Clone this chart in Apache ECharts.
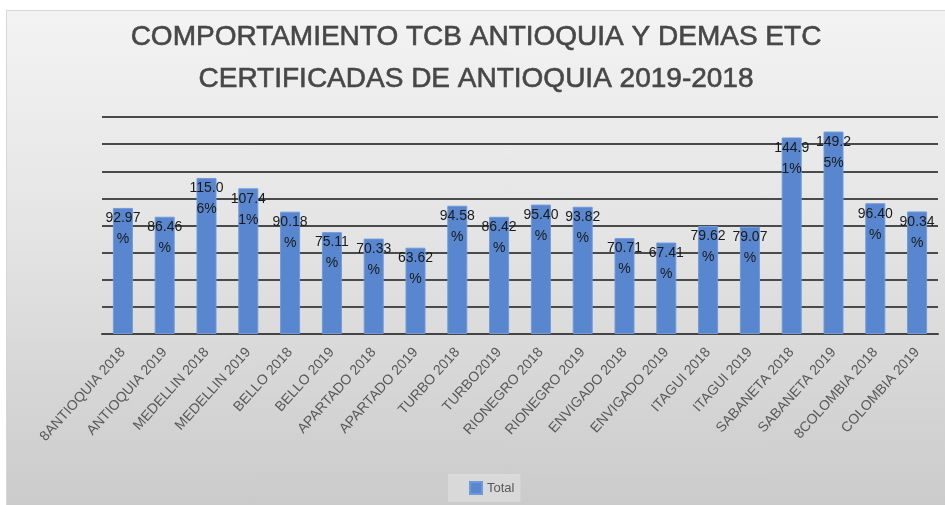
<!DOCTYPE html>
<html>
<head>
<meta charset="utf-8">
<script src="https://cdn.jsdelivr.net/npm/echarts@6/dist/echarts.min.js"></script>
<style>
  html, body {
    margin: 0;
    padding: 0;
    background: #ffffff;
  }
  #tcb-chart {
    position: absolute;
    left: 6px;
    top: 10px;
    width: 938px;
    height: 494px;
    border: 1px solid #d6d6d6;
    background: linear-gradient(to bottom, #f3f3f3 0%, #e4e4e4 45%, #cbcbcb 100%);
  }
</style>
</head>
<body>
<div id="tcb-chart"></div>
<script>
// datos
const categorias = [
  "8ANTIOQUIA 2018", "ANTIOQUIA 2019", "MEDELLIN 2018", "MEDELLIN 2019",
  "BELLO 2018", "BELLO 2019", "APARTADO 2018", "APARTADO 2019",
  "TURBO 2018", "TURBO2019", "RIONEGRO 2018", "RIONEGRO 2019",
  "ENVIGADO 2018", "ENVIGADO 2019", "ITAGUI 2018", "ITAGUI 2019",
  "SABANETA 2018", "SABANETA 2019", "8COLOMBIA 2018", "COLOMBIA 2019",
];
const total = [
  92.97, 86.46, 115.06, 107.41, 90.18, 75.11, 70.33, 63.62, 94.58, 86.42,
  95.4, 93.82, 70.71, 67.41, 79.62, 79.07, 144.91, 149.25, 96.4, 90.34,
];
const titulo = [
  "COMPORTAMIENTO TCB ANTIOQUIA Y DEMAS ETC",
  "CERTIFICADAS DE ANTIOQUIA 2019-2018",
];

// la etiqueta se parte a los 5 caracteres como en el original
function etiqueta(v) {
  const s = v.toFixed(2) + "%";
  return s.slice(0, 5) + "\n" + s.slice(5);
}

let myChart = echarts.init(document.getElementById("tcb-chart"));
myChart.setOption({
  animation: false,
  title: {
    text: titulo.join("\n"),
    left: "center",
    top: 0,
    textStyle: {
      fontFamily: "Liberation Sans",
      fontSize: 28,
      fontWeight: "normal",
      color: "#474747",
      lineHeight: 42,
      textBorderColor: "#474747",
      textBorderWidth: 0.6,
    },
  },
  legend: {
    data: ["Total"],
    left: 441,
    top: 463,
    padding: [7, 6, 7, 21],
    backgroundColor: "rgba(255,255,255,0.25)",
    icon: "rect",
    itemWidth: 12,
    itemHeight: 12,
    itemGap: 4,
    textStyle: {
      fontFamily: "Liberation Sans",
      fontSize: 13,
      color: "#595959",
    },
  },
  grid: {
    left: 95,
    right: 7,
    top: 106,
    bottom: 171,
  },
  xAxis: {
    type: "category",
    data: categorias,
    axisLine: {
      lineStyle: { color: "#444444", width: 2 },
    },
    axisTick: { show: false },
    axisLabel: {
      interval: 0,
      rotate: 48,
      margin: 16,
      fontFamily: "Liberation Sans",
      fontSize: 14,
      color: "#595959",
    },
  },
  yAxis: {
    type: "value",
    min: 0,
    max: 160,
    interval: 20,
    axisLabel: { show: false },
    axisLine: { show: false },
    axisTick: { show: false },
    splitLine: {
      lineStyle: { color: "#4a4a4a", width: 2 },
    },
  },
  series: [
    {
      name: "Total",
      type: "bar",
      barWidth: 20,
      data: total,
      itemStyle: {
        color: "#5886cf",
        borderColor: "#7099d9",
        borderWidth: 1,
      },
      label: {
        show: true,
        position: "insideTop",
        distance: 0,
        formatter: (p) => etiqueta(p.value),
        fontFamily: "Liberation Sans",
        fontSize: 14,
        lineHeight: 21,
        color: "#1a1a1a",
      },
    },
  ],
});
</script>
</body>
</html>
